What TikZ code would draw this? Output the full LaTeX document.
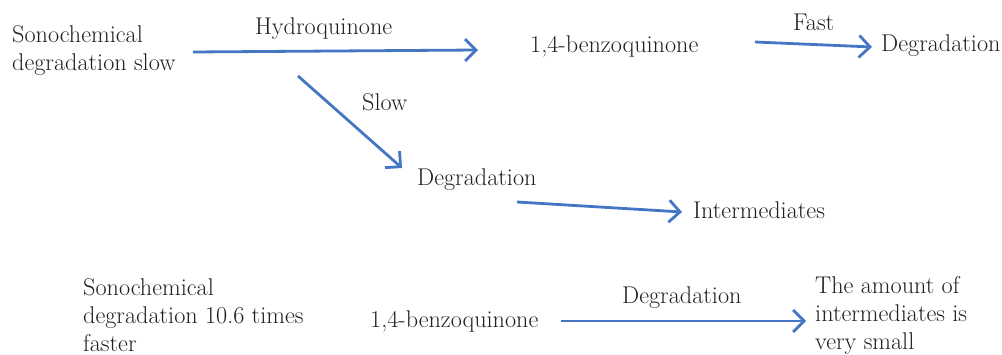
\documentclass[tikz,border=0pt]{standalone}
\usetikzlibrary{arrows.meta}
\definecolor{arrowblue}{RGB}{68,118,196}
\definecolor{textcol}{RGB}{35,31,32}
\begin{document}
\begin{tikzpicture}[x=1pt,y=-1pt,
  lbl/.style={inner sep=0pt,anchor=west,font=\fontsize{24.2}{28}\selectfont,align=left,text=textcol},
  flow/.style={draw=arrowblue,line width=2.8pt,-{Straight Barb[length=11pt,width=22pt,line width=2.8pt]}}]
\useasboundingbox (0,0) rectangle (1002,355);
% top section
\node[lbl] (sono1) at (12,51) {Sonochemical\\degradation slow};
\node[lbl] (hq) at (255,29) {Hydroquinone};
\node[lbl] (bq1) at (530,46) {1,4-benzoquinone};
\node[lbl] (fast) at (793,22) {Fast};
\node[lbl] (deg1) at (881,46) {Degradation};
\node[lbl] (slow) at (362,102) {Slow};
\node[lbl] (deg2) at (417,180) {Degradation};
\node[lbl] (inter) at (693,210) {Intermediates};
% bottom section
\node[lbl] (sono2) at (83,315) {Sonochemical\\degradation 10.6 times\\faster};
\node[lbl] (bq2) at (370,321) {1,4-benzoquinone};
\node[lbl] (deg3) at (622,298) {Degradation};
\node[lbl] (amount) at (815,315) {The amount of\\intermediates is\\very small};
% connector end points
\coordinate (a1s) at (193,52); \coordinate (a1e) at (478,50);
\coordinate (a2s) at (755,42); \coordinate (a2e) at (872,47);
\coordinate (a3s) at (298,76); \coordinate (a3e) at (402,168);
\coordinate (a4s) at (517,202); \coordinate (a4e) at (682,212);
\coordinate (a5s) at (561,321); \coordinate (a5e) at (806,321);
\draw[flow] (a1s) -- (a1e);
\draw[flow] (a2s) -- (a2e);
\draw[flow] (a3s) -- (a3e);
\draw[flow] (a4s) -- (a4e);
\draw[flow] (a5s) -- (a5e);
\end{tikzpicture}
\end{document}
